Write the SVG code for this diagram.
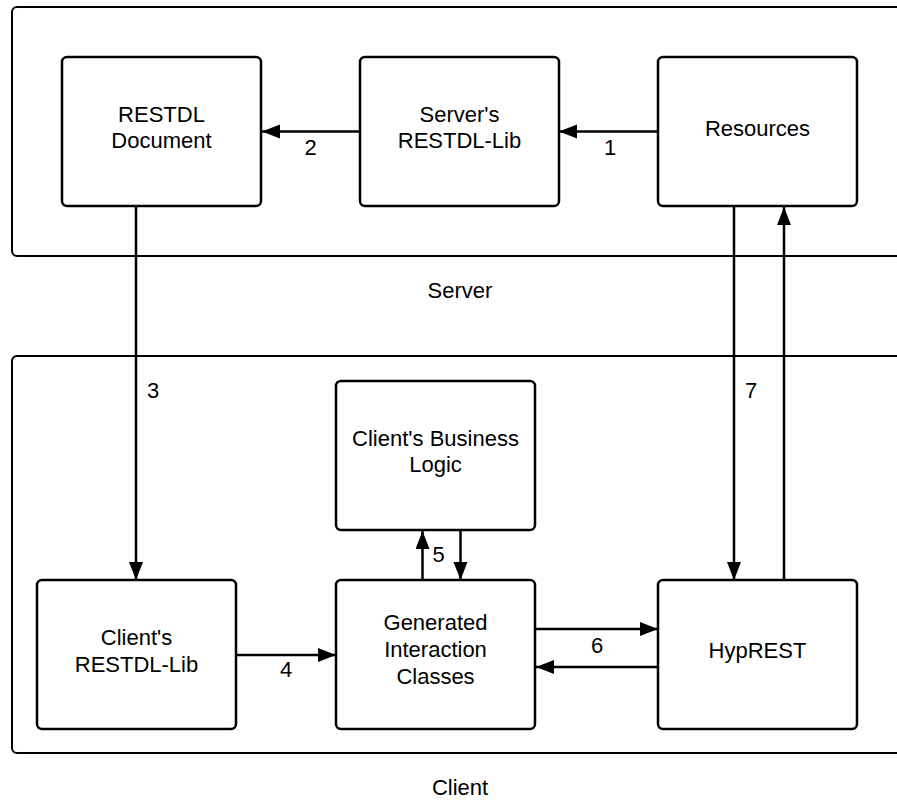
<svg xmlns="http://www.w3.org/2000/svg" width="897" height="800" viewBox="0 0 897 800">
  <style>
    .container { fill: none; stroke: #000; stroke-width: 2; }
    .box { fill: #fff; stroke: #000; stroke-width: 2.5; }
    .lbl { font-family: "Liberation Sans", Arial, sans-serif; font-size: 22px; fill: #000; text-anchor: middle; }
    .edge { fill: none; stroke: #000; stroke-width: 2.5; }
    .arr { marker-end: url(#arrow); }
  </style>
  <defs>
    <marker id="arrow" markerUnits="userSpaceOnUse" markerWidth="20" markerHeight="16" refX="18" refY="7" orient="auto">
      <path d="M0,0 L18,7 L0,14 Z" fill="#000"/>
    </marker>
  </defs>
  <rect width="897" height="800" fill="#fff"/>

  <g id="server-container">
    <rect class="container" x="12" y="7" width="900" height="249" rx="5"/>
    <text class="lbl" x="460" y="298">Server</text>
  </g>
  <g id="client-container">
    <rect class="container" x="12" y="356" width="900" height="397" rx="5"/>
    <text class="lbl" x="460" y="795">Client</text>
  </g>

  <g id="connectors">
    <path id="e1" class="edge arr" d="M658,131.5 L559,131.5"/>
    <path id="e2" class="edge arr" d="M360,131.5 L262,131.5"/>
    <path id="e3" class="edge arr" d="M136,206 L136,580"/>
    <path id="e4" class="edge arr" d="M237,655 L336,655"/>
    <path id="e5up" class="edge arr" d="M422.5,580 L422.5,531"/>
    <path id="e5down" class="edge arr" d="M460.5,530 L460.5,580"/>
    <path id="e6right" class="edge arr" d="M535,629 L658,629"/>
    <path id="e6left" class="edge arr" d="M658,667 L536,667"/>
    <path id="e7down" class="edge arr" d="M734,206 L734,580"/>
    <path id="e7up" class="edge arr" d="M784,580 L784,207"/>
    <text class="lbl" x="610" y="155">1</text>
    <text class="lbl" x="310.5" y="155">2</text>
    <text class="lbl" x="153" y="398">3</text>
    <text class="lbl" x="286" y="677">4</text>
    <text class="lbl" x="438.5" y="562">5</text>
    <text class="lbl" x="597" y="653">6</text>
    <text class="lbl" x="751" y="398">7</text>
  </g>

  <g id="restdl-document">
    <rect class="box" x="62" y="57" width="199" height="149" rx="5"/>
    <text class="lbl" x="161.5" y="122">RESTDL</text>
    <text class="lbl" x="161.5" y="148">Document</text>
  </g>
  <g id="server-restdl-lib">
    <rect class="box" x="360" y="57" width="199" height="149" rx="5"/>
    <text class="lbl" x="459.5" y="122">Server's</text>
    <text class="lbl" x="459.5" y="148">RESTDL-Lib</text>
  </g>
  <g id="resources">
    <rect class="box" x="658" y="57" width="199" height="149" rx="5"/>
    <text class="lbl" x="757.5" y="136">Resources</text>
  </g>
  <g id="client-business-logic">
    <rect class="box" x="336" y="381" width="199" height="149" rx="5"/>
    <text class="lbl" x="435.5" y="446">Client's Business</text>
    <text class="lbl" x="435.5" y="472">Logic</text>
  </g>
  <g id="client-restdl-lib">
    <rect class="box" x="37" y="580" width="199" height="149" rx="5"/>
    <text class="lbl" x="136.5" y="645">Client's</text>
    <text class="lbl" x="136.5" y="671.5">RESTDL-Lib</text>
  </g>
  <g id="generated-interaction-classes">
    <rect class="box" x="336" y="580" width="199" height="149" rx="5"/>
    <text class="lbl" x="435.5" y="630">Generated</text>
    <text class="lbl" x="435.5" y="657">Interaction</text>
    <text class="lbl" x="435.5" y="684">Classes</text>
  </g>
  <g id="hyprest">
    <rect class="box" x="658" y="580" width="199" height="149" rx="5"/>
    <text class="lbl" x="757.5" y="658">HypREST</text>
  </g>
</svg>
